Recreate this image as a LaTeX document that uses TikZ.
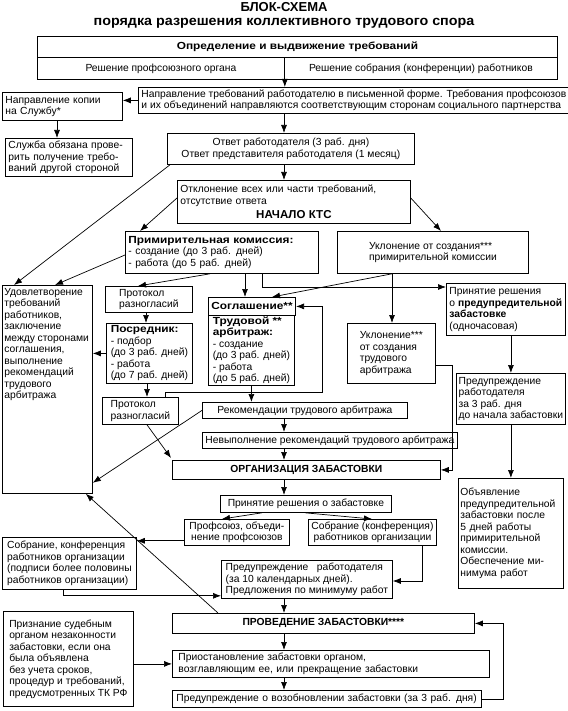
\documentclass[tikz,border=0pt]{standalone}
\usepackage{fontspec}
\setmainfont{Liberation Sans}
\newfontfamily\widefont[FakeStretch=1.15]{Liberation Sans}
\newfontfamily\ttlfont[FakeStretch=1.06]{Liberation Sans}
\usetikzlibrary{arrows.meta,calc}
\newcommand\wb[1]{{\widefont\bfseries #1}}
\begin{document}
\begin{tikzpicture}[x=1pt,y=-1pt,
  every node/.style={font=\fontsize{10.3}{11.5}\selectfont},
  bx/.style={draw, line width=0.8pt, anchor=north west, inner xsep=3pt, inner ysep=0pt},
  bold/.style={font=\fontsize{10.3}{11.5}\selectfont\bfseries},
  arr/.style={line width=0.7pt, -{Latex[length=8pt,width=6pt]}}]
\useasboundingbox (0,0) rectangle (567,711);
\coordinate (mid) at (284,0);

% titles
\node[inner sep=0pt, font=\fontsize{13}{15}\selectfont\bfseries] (t1) at (284,7) {БЛОК-СХЕМА};
\node[inner sep=0pt, font=\fontsize{13.5}{15}\selectfont\ttlfont\bfseries] (t2) at (284,23) {порядка разрешения коллективного трудового спора};

% top block
\node[bx, minimum width=520pt, minimum height=21pt, align=center] (reqA) at (37,36) {\wb{Определение и выдвижение требований}};
\node[bx, minimum width=247pt, minimum height=22pt, align=center] (reqB) at (37,57) {Решение профсоюзного органа};
\node[bx, minimum width=273pt, minimum height=22pt, align=center] (reqC) at (284,57) {Решение собрания (конференции) работников};

\node[bx, minimum width=428pt, minimum height=26pt, align=left] (send) at (138,87) {Направление требований работодателю в письменной форме. Требования профсоюзов\\и их объединений направляются соответствующим сторонам социального партнерства};
\node[bx, minimum width=120pt, minimum height=28pt, text width=114pt, align=left] (copy) at (2,92) {Направление копии\\на  Службу*};
\node[bx, minimum width=127pt, minimum height=38pt, text width=121pt, align=left] (svc) at (5,138) {Служба обязана прове-\\рить получение требо-\\ваний другой стороной};
\node[bx, minimum width=247pt, minimum height=31pt, align=center] (ans) at (167,133) {Ответ работодателя (3 раб.  дня)\\Ответ представителя работодателя (1 месяц)};
\node[bx, minimum width=233pt, minimum height=43pt, text width=227pt, align=left] (rej) at (177,180) {Отклонение всех или части требований,\\отсутствие ответа\\[3pt]\hfill{\fontsize{11.5}{12}\selectfont\bfseries НАЧАЛО КТС}\hfill\mbox{}};

\node[bx, minimum width=193pt, minimum height=42pt, text width=187pt, align=left] (conc) at (125,231) {\wb{Примирительная комиссия:}\\- создание (до 3 раб. дней)\\- работа (до 5 раб. дней)};
\node[bx, minimum width=191pt, minimum height=42pt, align=left] (evade1) at (337,231) {Уклонение от создания***\\примирительной комиссии};

\node[bx, inner xsep=2pt, minimum width=90pt, minimum height=208pt] (sat) at (2,285) {\parbox[c][202pt][t]{86pt}{\raggedright Удовлетворение\\требований\\работников,\\заключение\\между\hspace{0.25em}сторонами\\соглашения,\\выполнение\\рекомендаций\\трудового\\арбитража}};

\node[bx, minimum width=87pt, minimum height=26pt, align=left] (prot1) at (105,286) {Протокол\\разногласий};
\node[bx, minimum width=86pt, minimum height=60pt, align=left] (med) at (106,323) {\wb{Посредник:}\\- подбор\\(до 3 раб. дней)\\- работа\\(до 7 раб. дней)};
\node[bx, minimum width=76pt, minimum height=27pt, align=left] (prot2) at (102,397) {Протокол\\разногласий};

\node[bx, minimum width=86pt, minimum height=18pt, align=center] (agr1) at (208,297) {\wb{Соглашение**}};
\node[bx, minimum width=86pt, minimum height=70pt, align=left] (agr2) at (208,315) {\wb{Трудовой **}\\\wb{арбитраж:}\\- создание\\(до 3 раб. дней)\\- работа\\(до 5 раб. дней)};

\node[bx, minimum width=205pt, minimum height=16pt, align=center] (rec) at (202,402) {Рекомендации трудового арбитража};
\node[bx, minimum width=240pt, minimum height=16pt, align=center] (nonf) at (202,432) {Невыполнение рекомендаций трудового арбитража};
\node[bx, bold, minimum width=268pt, minimum height=19pt, align=center] (org) at (172,460) {ОРГАНИЗАЦИЯ ЗАБАСТОВКИ};
\node[bx, minimum width=171pt, minimum height=17pt, align=center] (dec) at (220,495) {Принятие  решения о забастовке};
\node[bx, minimum width=105pt, minimum height=26pt, align=center] (union) at (184,519) {Профсоюз, объеди-\\нение профсоюзов};
\node[bx, minimum width=128pt, minimum height=26pt, align=center] (meet) at (308,519) {Собрание (конференция)\\работников организации};
\node[bx, minimum width=134pt, minimum height=52pt, align=left] (meet2) at (2,537) {Собрание, конференция\\работников организации\\(подписи более половины\\работников организации)};
\node[bx, minimum width=171pt, minimum height=38pt, align=left] (warn10) at (221,560) {Предупреждение \ \ работодателя\\(за 10  календарных дней).\\Предложения по минимуму работ};
\node[bx, bold, minimum width=302pt, minimum height=20pt, align=center] (hold) at (172,613) {ПРОВЕДЕНИЕ ЗАБАСТОВКИ****};
\node[bx, minimum width=130pt, minimum height=95pt, align=left] (court) at (3,611) {Признание судебным\\органом незаконности\\забастовки, если она\\была  объявлена\\без учета сроков,\\процедур и требований,\\предусмотренных ТК РФ};
\node[bx, inner xsep=6pt, minimum width=317pt, minimum height=27pt, text width=305pt, align=left] (susp) at (172,650) {Приостановление забастовки органом,\\возглавляющим ее, или прекращение забастовки};
\node[bx, inner xsep=4pt, minimum width=309pt, minimum height=17pt, text width=301pt, align=left] (resume) at (172,690) {Предупреждение о возобновлении забастовки (за 3 раб. дня)};

% right column
\node[bx, minimum width=119pt, minimum height=52pt, align=left] (pre) at (446,283) {Принятие решения\\о \textbf{предупредительной}\\\textbf{забастовке}\\(одночасовая)};
\node[bx, minimum width=88pt, minimum height=60pt, align=left] (evade2) at (347,323) {Уклонение***\\от создания\\трудового\\арбитража};
\node[bx, inner xsep=1pt, minimum width=109pt, minimum height=51pt, align=left] (warn3) at (456,373) {Предупреждение\\работодателя\\за 3 раб. дня\\до начала забастовки};
\node[bx, inner xsep=2pt, minimum width=105pt, minimum height=110pt, text width=101pt, align=left] (ann) at (458,478) {Объявление\\предупредительной\\забастовки после\\5 дней работы\\примирительной\\комиссии.\\Обеспечение ми-\\нимума работ};

% connectors
\draw[arr] (reqB.south east) -- (reqB.south east |- send.north);
\draw[arr] (send.west) -- (send.west -| copy.east);
\draw[arr] ($(copy.south west)+(55,0)$) coordinate (c1) -- (c1 |- svc.north);
\draw[arr] (send.south -| mid) -- (ans.north -| mid);
\draw[arr] (ans.south -| mid) -- (rej.north -| mid);
\draw[arr] ($(ans.south west)+(3,0)$) -- ($(sat.north west)+(12,0)$);
\draw[arr] ($(rej.north west)+(0,18)$) -- ($(conc.north west)+(15,0)$);
\draw[arr] ($(rej.north east)+(0,18)$) -- ($(evade1.north west)+(104,0)$);
\draw[arr] ($(conc.north west)+(0,24)$) -- ($(sat.north west)+(53,0)$);
\draw[arr] ($(conc.south west)+(85,0)$) -- ($(prot1.north west)+(33,0)$);
\draw[arr] ($(conc.south west)+(120,0)$) coordinate (c2) -- (c2 |- agr1.north);
\draw[arr] ($(conc.south west)+(137,0)$) |- ($(pre.north west)+(0,4)$);
\draw[arr] ($(evade1.south west)+(55,0)$) -- ($(agr1.north west)+(64,0)$);
\draw[arr] ($(evade1.south west)+(55,0)$) coordinate (c3) -- (c3 |- evade2.north);
\draw[arr] ($(prot1.south west)+(41,0)$) coordinate (c4) -- (c4 |- med.north);
\draw[arr] ($(med.south west)+(41,0)$) coordinate (c5) -- (c5 |- prot2.north);
\draw[arr] (med.west) -- (med.west -| sat.east);
\draw[arr] ($(prot2.north west)+(63,0)$) -- ++(0,-5) -| ($(agr1.east)+(26,0)$) -- (agr1.east);
\draw[arr] (agr2.south) -- (agr2.south |- rec.north);
\draw[arr] (rec.south -| mid) -- (nonf.north -| mid);
\draw[arr] (nonf.south -| mid) -- (org.north -| mid);
\draw[arr] (rec.west) -- ($(sat.south east)+(0,-11)$);
\draw[arr] ($(prot2.south west)+(45,0)$) -- ($(org.north west)+(-1,-2)$);
\draw[arr] ($(evade2.north east)+(0,42)$) -- ++(17,0) |- (org.east);
\draw[arr] (warn3.north |- pre.south) -- (warn3.north);
\draw[arr] (warn3.south) -- (warn3.south |- ann.north);
\draw[arr] (org.south -| mid) -- (dec.north -| mid);
\draw[arr] ($(dec.south west)+(42,0)$) -- ($(union.north west)+(38,0)$);
\draw[arr] ($(dec.south west)+(85,0)$) -- ($(meet.north west)+(64,0)$);
\draw[arr] ($(union.south west)+(0,-5)$) coordinate (c6) -- (c6 -| meet2.east);
\draw[arr] ($(meet.south east)+(-14,0)$) |- ($(warn10.north east)+(0,21)$);
\draw[arr] ($(meet2.south west)+(61,0)$) |- ($(warn10.south west)+(0,-3)$);
\draw[arr] (warn10.south -| mid) -- (hold.north -| mid);
\draw[arr] ($(hold.north west)+(46,0)$) -- ($(sat.south east)+(-7,0)$);
\draw[arr] (hold.south -| mid) -- (susp.north -| mid);
\draw[arr] (susp.south -| mid) -- (resume.north -| mid);
\draw[arr] (resume.east) -- ++(22,0) |- (hold.east);
\draw[arr] (susp.west -| court.east) -- (susp.west);
\end{tikzpicture}
\end{document}
